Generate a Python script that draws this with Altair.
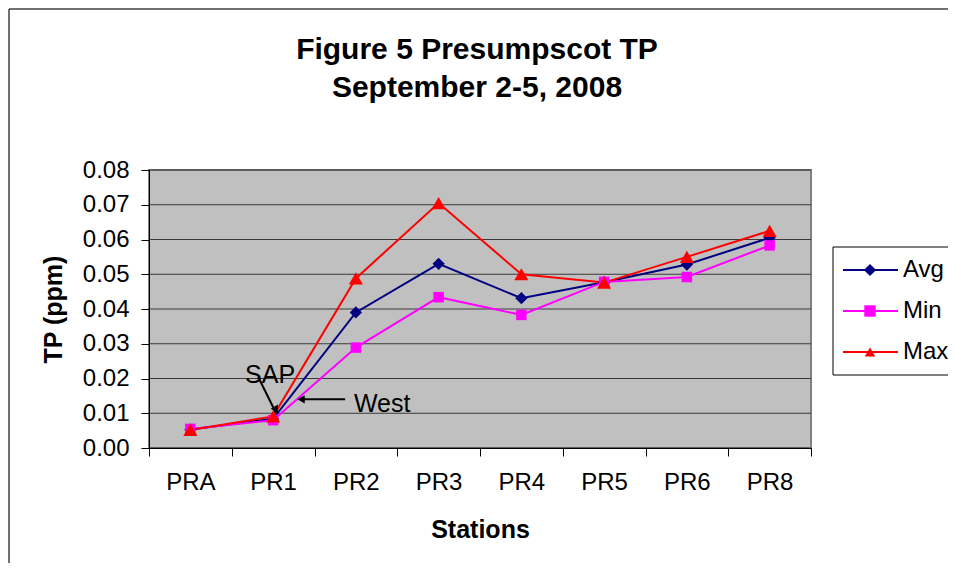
import altair as alt
import pandas as pd

# ---------------- data ----------------
stations = ["PRA", "PR1", "PR2", "PR3", "PR4", "PR5", "PR6", "PR8"]
avg_vals = [0.0053, 0.0084, 0.0390, 0.0530, 0.0431, 0.0477, 0.0528, 0.0605]
min_vals = [0.0055, 0.0080, 0.0289, 0.0434, 0.0383, 0.0478, 0.0492, 0.0583]
max_vals = [0.0052, 0.0091, 0.0488, 0.0705, 0.0500, 0.0476, 0.0550, 0.0625]
series_names = ["Avg", "Min", "Max"]
series_colors = ["#000080", "#FF00FF", "#FF0000"]
series_shapes = ["diamond", "square", "triangle-up"]
series_sizes = [150, 110, 200]
y_ticks = [0.00, 0.01, 0.02, 0.03, 0.04, 0.05, 0.06, 0.07, 0.08]

title_lines = ["Figure 5 Presumpscot TP", "September 2-5, 2008"]
x_title = "Stations"
y_title = "TP (ppm)"

# annotations (anchored at station PR1)
annot_station = "PR1"
annot_labels = ["SAP", "West"]
annot_label_y = [0.0186, 0.01045]
sap_arrow_y = [0.0205, 0.0100]
sap_head_y = 0.0110
west_arrow_y = 0.0140

rows = []
for name, vals in zip(series_names, [avg_vals, min_vals, max_vals]):
    for st, v in zip(stations, vals):
        rows.append({"station": st, "series": name, "value": v})
df = pd.DataFrame(rows)
legend_df = pd.DataFrame({"series": series_names})
grid_df = pd.DataFrame({"value": y_ticks})

FONT = "Liberation Sans"
W, H = 662, 278

x_enc = alt.X(
    "station:N",
    sort=stations,
    scale=alt.Scale(type="band", domain=stations, paddingInner=0, paddingOuter=0),
    axis=alt.Axis(
        title=x_title, labelAngle=0, tickBand="extent", ticks=True, tickSize=8,
        tickColor="black", domainColor="black", labelFontSize=24, labelFont=FONT,
        labelColor="black", labelPadding=14, titleFontSize=25, titleFont=FONT,
        titleFontWeight="bold", titleColor="black", titlePadding=23, grid=False,
        zindex=1,
    ),
)
y_scale = alt.Scale(domain=[0, 0.08], nice=False, zero=True)
y_enc = alt.Y(
    "value:Q",
    scale=y_scale,
    axis=alt.Axis(
        title=y_title, values=y_ticks, format=".2f", tickSize=8, tickColor="black",
        domainColor="black", labelFontSize=24, labelFont=FONT, labelColor="black",
        labelPadding=12, titleFontSize=25, titleFont=FONT, titleFontWeight="bold",
        titleColor="black", titlePadding=16, grid=False, zindex=1,
    ),
)
color_scale = alt.Scale(domain=series_names, range=series_colors)

one = pd.DataFrame({"a": [0]})

# outer chart-area border (top and left edges visible)
border_top = alt.Chart(one).mark_rule(color="#404040", strokeWidth=1.5).encode(
    x=alt.value(-140), x2=alt.value(W + 300), y=alt.value(-161)
)
border_left = alt.Chart(one).mark_rule(color="#404040", strokeWidth=1.5).encode(
    x=alt.value(-140), y=alt.value(-161), y2=alt.value(H + 300)
)

title1 = alt.Chart(pd.DataFrame({"t": [title_lines[0]]})).mark_text(
    font=FONT, fontSize=30, fontWeight="bold", color="black", align="center", baseline="alphabetic"
).encode(x=alt.value(328), y=alt.value(-111.5), text="t:N")
title2 = alt.Chart(pd.DataFrame({"t": [title_lines[1]]})).mark_text(
    font=FONT, fontSize=30, fontWeight="bold", color="black", align="center", baseline="alphabetic"
).encode(x=alt.value(328), y=alt.value(-73), text="t:N")

# plot area background and grid
plot_bg = alt.Chart(one).mark_rect(fill="#C0C0C0", stroke="#808080", strokeWidth=2).encode(
    x=alt.value(0), x2=alt.value(W), y=alt.value(0), y2=alt.value(H)
)
grid = alt.Chart(grid_df).mark_rule(color="#3A3A3A", strokeWidth=1).encode(
    y=y_enc, x=alt.value(0), x2=alt.value(W)
)

lines = alt.Chart(df).mark_line(strokeWidth=2).encode(
    x=x_enc, y=y_enc,
    color=alt.Color("series:N", scale=color_scale, legend=None),
    detail="series:N",
)

point_layers = []
for name, shp, sz in zip(series_names, series_shapes, series_sizes):
    point_layers.append(
        alt.Chart(df).transform_filter(alt.datum.series == name).mark_point(
            filled=True, opacity=1, shape=shp, size=sz
        ).encode(
            x=x_enc, y=y_enc,
            color=alt.Color("series:N", scale=color_scale, legend=None),
        )
    )

annot_df = pd.DataFrame({"station": [annot_station] * 2, "label": annot_labels, "value": annot_label_y})
sap_text = alt.Chart(annot_df.iloc[[0]]).mark_text(
    font=FONT, fontSize=25, color="black", align="center", baseline="alphabetic", dx=-3
).encode(x=x_enc, y=y_enc, text="label:N")
west_text = alt.Chart(annot_df.iloc[[1]]).mark_text(
    font=FONT, fontSize=25, color="black", align="center", baseline="alphabetic", dx=109
).encode(x=x_enc, y=y_enc, text="label:N")

sap_line_df = pd.DataFrame({"station": [annot_station], "value": [sap_arrow_y[0]], "value2": [sap_arrow_y[1]]})
sap_line = alt.Chart(sap_line_df).mark_rule(
    color="black", strokeWidth=2, xOffset=-15, x2Offset=3
).encode(x=x_enc, x2="station:N", y=y_enc, y2="value2:Q")
sap_head = alt.Chart(pd.DataFrame({"station": [annot_station], "value": [sap_head_y]})).mark_point(
    shape="triangle-down", filled=True, opacity=1, color="black", size=70, angle=331, xOffset=3
).encode(x=x_enc, y=y_enc)

west_line_df = pd.DataFrame({"station": [annot_station], "value": [west_arrow_y]})
west_line = alt.Chart(west_line_df).mark_rule(
    color="black", strokeWidth=2, xOffset=26, x2Offset=72
).encode(x=x_enc, x2="station:N", y=y_enc)
west_head = alt.Chart(west_line_df).mark_point(
    shape="triangle-left", filled=True, opacity=1, color="black", size=70, xOffset=28
).encode(x=x_enc, y=y_enc)

main = alt.layer(
    plot_bg, grid, lines, *point_layers,
    sap_line, sap_head, west_line, west_head, sap_text, west_text,
)

# ---------------- legend (line through marker) ----------------
leg_y = alt.Y(
    "series:N",
    scale=alt.Scale(type="point", domain=series_names, range=[100, 182], padding=0),
    axis=None,
)
leg_box = alt.Chart(one).mark_rect(fill="white", stroke="black", strokeWidth=1).encode(
    x=alt.value(684), x2=alt.value(W + 200), y=alt.value(77), y2=alt.value(205)
)
leg_lines = alt.Chart(legend_df).mark_rule(strokeWidth=2).encode(
    y=leg_y, x=alt.value(694), x2=alt.value(749),
    color=alt.Color("series:N", scale=color_scale, legend=None),
)
leg_pts = alt.Chart(legend_df).mark_point(filled=True, opacity=1).encode(
    y=leg_y, x=alt.value(721),
    color=alt.Color("series:N", scale=color_scale, legend=None),
    shape=alt.Shape("series:N", scale=alt.Scale(domain=series_names, range=series_shapes), legend=None),
    size=alt.Size("series:N", scale=alt.Scale(domain=series_names, range=[150, 110, 200]), legend=None),
)
leg_text = alt.Chart(legend_df).mark_text(
    font=FONT, fontSize=24, color="black", align="left", baseline="middle", dx=0
).encode(y=leg_y, x=alt.value(754), text="series:N")
legend = alt.layer(leg_box, leg_lines, leg_pts, leg_text)

chart = alt.layer(
    border_top, border_left, title1, title2, main, legend
).resolve_scale(y="independent").properties(
    width=W, height=H,
    background="white",
    autosize=alt.AutoSizeParams(type="none"),
    padding={"left": 141, "top": 162, "right": 137, "bottom": 115},
).configure_view(strokeWidth=0)

chart.save("out.html", embed_options={"renderer": "svg", "actions": False})
